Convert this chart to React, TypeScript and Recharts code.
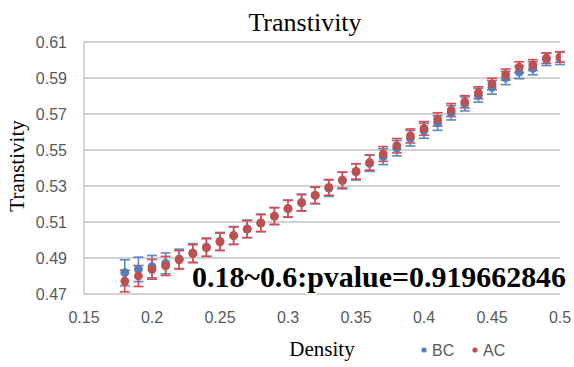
import React from 'react';
import { ScatterChart, Scatter, XAxis, YAxis, CartesianGrid, ErrorBar } from 'recharts';

const density = [0.18, 0.19, 0.2, 0.21, 0.22, 0.23, 0.24, 0.25, 0.26, 0.27, 0.28, 0.29, 0.3, 0.31, 0.32, 0.33, 0.34, 0.35, 0.36, 0.37, 0.38, 0.39, 0.4, 0.41, 0.42, 0.43, 0.44, 0.45, 0.46, 0.47, 0.48, 0.49, 0.5];

const bcValues = [0.4818, 0.4837, 0.4852, 0.487, 0.4895, 0.4928, 0.496, 0.4992, 0.5025, 0.5062, 0.5095, 0.5133, 0.5174, 0.5208, 0.5248, 0.5288, 0.533, 0.5378, 0.5426, 0.5463, 0.551, 0.5565, 0.5607, 0.565, 0.5707, 0.5756, 0.5804, 0.5848, 0.59, 0.5932, 0.5954, 0.6004, 0.601];
const acValues = [0.4772, 0.48, 0.4837, 0.4856, 0.489, 0.4924, 0.4958, 0.499, 0.5024, 0.506, 0.5094, 0.5133, 0.5174, 0.5207, 0.5248, 0.5292, 0.5333, 0.5381, 0.543, 0.5478, 0.5524, 0.5578, 0.562, 0.567, 0.5722, 0.5768, 0.5818, 0.5867, 0.5919, 0.596, 0.5972, 0.601, 0.6017];

const bcErr = [0.0072, 0.0068, 0.0062, 0.0058, 0.0054, 0.0052, 0.0051, 0.005, 0.005, 0.0049, 0.0049, 0.0048, 0.0048, 0.0047, 0.0047, 0.0046, 0.0046, 0.0045, 0.0045, 0.0044, 0.0043, 0.0043, 0.0042, 0.0041, 0.004, 0.0039, 0.0038, 0.0038, 0.0037, 0.0036, 0.0036, 0.0035, 0.0035];
const acErr = [0.006, 0.0058, 0.0055, 0.0053, 0.0051, 0.005, 0.0049, 0.0048, 0.0048, 0.0047, 0.0047, 0.0046, 0.0046, 0.0045, 0.0045, 0.0044, 0.0044, 0.0043, 0.0042, 0.0041, 0.004, 0.0039, 0.0038, 0.0037, 0.0036, 0.0034, 0.0033, 0.0032, 0.0031, 0.003, 0.003, 0.0029, 0.0029];

const xTicks = [0.15, 0.2, 0.25, 0.3, 0.35, 0.4, 0.45, 0.5];
const yTicks = [0.47, 0.49, 0.51, 0.53, 0.55, 0.57, 0.59, 0.61];

const seriesNames = ['BC', 'AC'];
const titleText = 'Transtivity';
const xLabelText = 'Density';
const yLabelText = 'Transtivity';
const annotationText = '0.18~0.6:pvalue=0.919662846';

const BLUE = '#4F81BD';
const RED = '#C0504D';
const BLUE_BAR = '#5A88C6';
const RED_BAR = '#E0474C';

const bcData = density.map((d, i) => ({ x: d, y: bcValues[i], err: bcErr[i] }));
const acData = density.map((d, i) => ({ x: d, y: acValues[i], err: acErr[i] }));

const W = 574;
const H = 367;
const serif = '"Liberation Serif", "Times New Roman", serif';
const sans = '"Liberation Sans", Arial, sans-serif';

const dot = (color: string) => (props: any) => (
  <circle cx={props.cx} cy={props.cy} r={4.4} fill={color} />
);

export default function App() {
  return (
    <div style={{ position: 'absolute', left: 0, top: 0, width: W, height: H, background: '#fff' }}>
      <ScatterChart width={W} height={H} margin={{ top: 42, right: 14, bottom: 0, left: 0 }}>
        <CartesianGrid horizontal vertical={false} stroke="#c3c3c3" strokeWidth={1.3} />
        <XAxis
          type="number"
          dataKey="x"
          domain={[0.15, 0.5]}
          ticks={xTicks}
          allowDataOverflow
          height={73}
          axisLine={false}
          tickLine={false}
          tickMargin={12}
          tickFormatter={(v: number) => String(parseFloat(v.toFixed(2)))}
          tick={{ fill: '#595959', fontSize: 16, fontFamily: sans }}
        />
        <YAxis
          type="number"
          dataKey="y"
          domain={[0.47, 0.61]}
          ticks={yTicks}
          allowDataOverflow
          width={84}
          axisLine={{ stroke: '#c3c3c3', strokeWidth: 1.3 }}
          tickLine={false}
          tickMargin={11}
          tickFormatter={(v: number) => v.toFixed(2)}
          tick={{ fill: '#595959', fontSize: 16, fontFamily: sans }}
        />
        <Scatter name={seriesNames[0]} data={bcData} fill={BLUE} shape={dot(BLUE)} isAnimationActive={false}>
          <ErrorBar dataKey="err" direction="y" width={5} stroke={BLUE_BAR} strokeWidth={1.6} />
        </Scatter>
        <Scatter name={seriesNames[1]} data={acData} fill={RED} shape={dot(RED)} isAnimationActive={false}>
          <ErrorBar dataKey="err" direction="y" width={5} stroke={RED_BAR} strokeWidth={1.6} />
        </Scatter>
      </ScatterChart>
      <svg width={W} height={H} style={{ position: 'absolute', left: 0, top: 0, pointerEvents: 'none' }}>
        <text x={305} y={31} textAnchor="middle" fontFamily={serif} fontSize={26} fill="#000">{titleText}</text>
        <text x={322} y={356} textAnchor="middle" fontFamily={serif} fontSize={21} fill="#000">{xLabelText}</text>
        <text transform="translate(24,166) rotate(-90)" textAnchor="middle" fontFamily={serif} fontSize={21} fill="#000">{yLabelText}</text>
        <text
          x={192}
          y={287}
          fontFamily={serif}
          fontWeight="bold"
          fontSize={30}
          fill="#000"
          stroke="#fff"
          strokeWidth={3}
          paintOrder="stroke"
          textLength={374}
          lengthAdjust="spacingAndGlyphs"
        >
          {annotationText}
        </text>
        <circle cx={424} cy={350} r={2.6} fill={BLUE} />
        <text x={432} y={356} fontFamily={sans} fontSize={16} fill="#595959">{seriesNames[0]}</text>
        <circle cx={475} cy={350} r={2.6} fill={RED} />
        <text x={483} y={356} fontFamily={sans} fontSize={16} fill="#595959">{seriesNames[1]}</text>
      </svg>
    </div>
  );
}
